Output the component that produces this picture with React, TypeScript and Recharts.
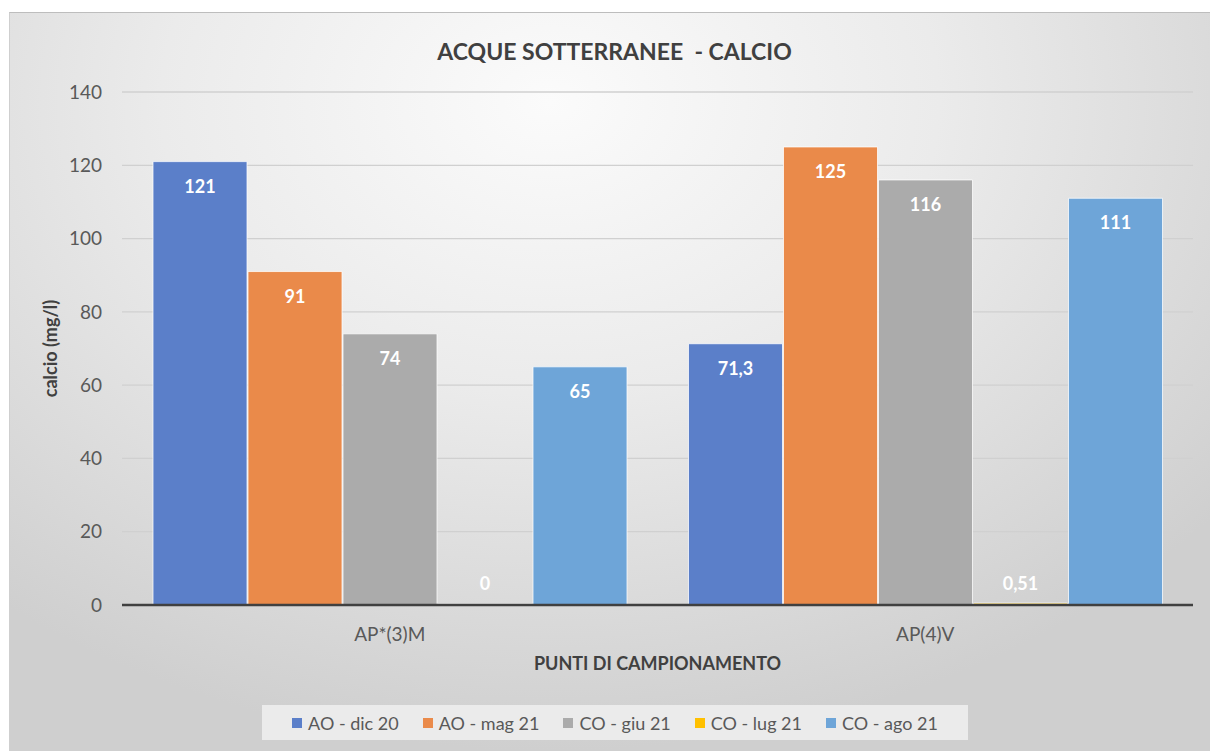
import React from 'react';
import { BarChart, Bar, XAxis, YAxis, CartesianGrid, Legend, LabelList, Label } from 'recharts';

const categories = ['AP*(3)M', 'AP(4)V'];
const seriesNames = ['AO - dic 20', 'AO - mag 21', 'CO - giu 21', 'CO - lug 21', 'CO - ago 21'];
const aoDic20 = [121, 71.3];
const aoMag21 = [91, 125];
const coGiu21 = [74, 116];
const coLug21 = [0, 0.51];
const coAgo21 = [65, 111];
const yTicks = [0, 20, 40, 60, 80, 100, 120, 140];
const colors = ['#5b7fc9', '#ea8a4a', '#ababab', '#ffc000', '#6ea5d8'];

const seriesValues = [aoDic20, aoMag21, coGiu21, coLug21, coAgo21];
const keys = ['s0', 's1', 's2', 's3', 's4'];
const data = categories.map((c, i) => {
  const row: any = { name: c };
  keys.forEach((k, j) => (row[k] = seriesValues[j][i]));
  return row;
});

const FONT = 'Lato, "Open Sans", sans-serif';

const fmt = (v: number) => String(v).replace('.', ',');

const renderLabel = (props: any) => {
  const { x, y, width, height, value } = props;
  const base = y + height;
  const ly = Math.min(y + 24, base - 22);
  return (
    <text
      x={x + width / 2}
      y={ly}
      textAnchor="middle"
      dominantBaseline="central"
      fill="#ffffff"
      fontFamily={FONT}
      fontWeight={700}
      fontSize={18}
    >
      {fmt(value)}
    </text>
  );
};

const renderLegend = () => {
  return (
    <div
      style={{
        background: '#ebebeb',
        height: 35,
        display: 'flex',
        alignItems: 'center',
        justifyContent: 'center',
        fontFamily: FONT,
        fontSize: 18,
        color: '#595959',
      }}
    >
      {seriesNames.map((n, i) => (
        <div key={i} style={{ display: 'flex', alignItems: 'center', marginRight: i < seriesNames.length - 1 ? 24 : 0 }}>
          <span style={{ width: 10, height: 10, background: colors[i], display: 'inline-block', marginRight: 6 }} />
          <span>{n}</span>
        </div>
      ))}
    </div>
  );
};

const YLabel = (props: any) => {
  const vb = props.viewBox;
  const cx = 41;
  const cy = vb.y + vb.height / 2;
  return (
    <text
      x={cx}
      y={cy}
      transform={`rotate(-90, ${cx}, ${cy})`}
      textAnchor="middle"
      dominantBaseline="central"
      fontFamily={FONT}
      fontWeight={700}
      fontSize={18}
      fill="#404040"
    >
      calcio (mg/l)
    </text>
  );
};

export default function App() {
  return (
    <div
      style={{
        position: 'absolute',
        left: 9,
        top: 12,
        width: 1201,
        height: 739,
        borderTop: '1px solid #bdbdbd',
        borderLeft: '1px solid #cfcfcf',
        boxSizing: 'border-box',
        background: 'radial-gradient(ellipse 72% 88% at 45% 12%, #fbfbfb 0%, #ebebeb 45%, #cfcfcf 100%)',
        overflow: 'hidden',
      }}
    >
      <div
        style={{
          position: 'absolute',
          left: 4,
          width: 1201,
          top: 24,
          textAlign: 'center',
          fontFamily: FONT,
          fontWeight: 700,
          fontSize: 23,
          color: '#404040',
        }}
      >
        ACQUE SOTTERRANEE &nbsp;- CALCIO
      </div>
      <div style={{ position: 'absolute', left: -1, top: -1 }}>
        <BarChart
          width={1201}
          height={739}
          data={data}
          margin={{ top: 80, right: 17, left: 0, bottom: 0 }}
          barCategoryGap={31}
          barGap={1}
        >
          <CartesianGrid horizontal vertical={false} stroke="#d0d0d0" strokeWidth={1.3} />
          <YAxis
            width={113}
            domain={[0, 140]}
            ticks={yTicks}
            interval={0}
            axisLine={false}
            tickLine={false}
            tickMargin={14}
            tick={{ fill: '#595959', fontFamily: FONT, fontSize: 19 }}
          >
            <Label content={YLabel} />
          </YAxis>
          <XAxis
            dataKey="name"
            height={146}
            axisLine={{ stroke: '#404040', strokeWidth: 2.5 }}
            tickLine={false}
            tickMargin={17}
            tick={{ fill: '#595959', fontFamily: FONT, fontSize: 19 }}
          >
            <Label
              value="PUNTI DI CAMPIONAMENTO"
              position="insideTop"
              offset={52}
              fill="#404040"
              fontFamily={FONT}
              fontWeight={700}
              fontSize={18}
            />
          </XAxis>
          <Legend
            verticalAlign="middle"
            align="center"
            content={renderLegend}
            wrapperStyle={{ position: 'absolute', left: 253, top: 693, width: 706, height: 35 }}
          />
          {keys.map((k, j) => (
            <Bar
              key={k}
              dataKey={k}
              name={seriesNames[j]}
              fill={colors[j]}
              stroke="rgba(255,255,255,0.75)"
              strokeWidth={1}
              minPointSize={1}
              isAnimationActive={false}
            >
              <LabelList dataKey={k} content={renderLabel} />
            </Bar>
          ))}
        </BarChart>
      </div>
    </div>
  );
}
